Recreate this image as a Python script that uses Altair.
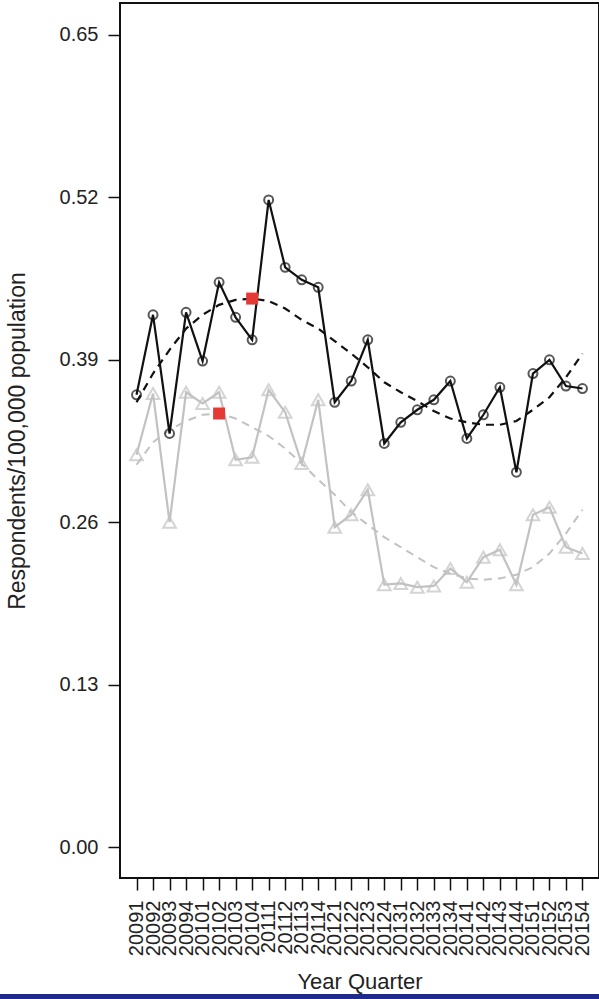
import altair as alt
import pandas as pd

quarters = ["20091", "20092", "20093", "20094", "20101", "20102", "20103", "20104",
            "20111", "20112", "20113", "20114", "20121", "20122", "20123", "20124",
            "20131", "20132", "20133", "20134", "20141", "20142", "20143", "20144",
            "20151", "20152", "20153", "20154"]

black_obs = [0.362, 0.426, 0.331, 0.428, 0.389, 0.452, 0.424, 0.406,
             0.518, 0.464, 0.454, 0.448, 0.356, 0.373, 0.406, 0.323,
             0.340, 0.350, 0.358, 0.373, 0.327, 0.346, 0.368, 0.300,
             0.379, 0.390, 0.369, 0.367]
grey_obs = [0.314, 0.363, 0.260, 0.364, 0.355, 0.364, 0.310, 0.312,
            0.366, 0.348, 0.307, 0.358, 0.256, 0.266, 0.286, 0.210,
            0.211, 0.208, 0.209, 0.223, 0.212, 0.232, 0.238, 0.210,
            0.266, 0.272, 0.240, 0.235]
black_trend = [0.356, 0.379, 0.398, 0.415, 0.426, 0.434, 0.438, 0.439,
               0.437, 0.431, 0.422, 0.415, 0.405, 0.395, 0.384, 0.372,
               0.364, 0.357, 0.349, 0.343, 0.340, 0.338, 0.338, 0.341,
               0.350, 0.360, 0.376, 0.395]
grey_trend = [0.306, 0.324, 0.334, 0.341, 0.346, 0.347, 0.343, 0.336,
              0.329, 0.319, 0.307, 0.294, 0.282, 0.268, 0.258, 0.248,
              0.240, 0.232, 0.224, 0.219, 0.215, 0.214, 0.215, 0.218,
              0.224, 0.235, 0.251, 0.270]
peak_quarters = ["20104", "20102"]
peak_values = [0.439, 0.347]

y_ticks = [0.0, 0.13, 0.26, 0.39, 0.52, 0.65]

df = pd.DataFrame({
    "q": quarters,
    "black": black_obs,
    "grey": grey_obs,
    "btrend": black_trend,
    "gtrend": grey_trend,
})
peaks = pd.DataFrame({"q": peak_quarters, "v": peak_values})

FONT = "Liberation Sans"
GREY = "#c2c2c2"

x_enc = alt.X(
    "q:N",
    sort=quarters,
    scale=alt.Scale(type="point", padding=1.075),
    axis=alt.Axis(
        title="Year Quarter",
        labelAngle=270,
        labelFontSize=20,
        labelFont=FONT,
        labelColor="#222222",
        labelPadding=10,
        tickSize=12,
        tickWidth=1.5,
        tickColor="#111111",
        domain=False,
        grid=False,
        titleFontSize=22,
        titleFont=FONT,
        titleFontWeight="normal",
        titleColor="#222222",
        titlePadding=16,
    ),
)


def y_enc(field):
    return alt.Y(
        field,
        type="quantitative",
        scale=alt.Scale(domain=[-0.0248, 0.6756], nice=False, zero=False),
        axis=alt.Axis(
            title="Respondents/100,000 population",
            values=y_ticks,
            format=".2f",
            labelFontSize=20,
            labelFont=FONT,
            labelColor="#222222",
            labelPadding=10,
            tickSize=12,
            tickWidth=1.5,
            tickColor="#111111",
            domain=False,
            grid=False,
            titleFontSize=23,
            titleFont=FONT,
            titleFontWeight="normal",
            titleColor="#222222",
            titlePadding=30,
        ),
    )


base = alt.Chart(df)

grey_trend_line = base.mark_line(color=GREY, strokeWidth=2, strokeDash=[8, 6]).encode(
    x=x_enc, y=y_enc("gtrend"))
grey_line = base.mark_line(color=GREY, strokeWidth=2.2).encode(x=x_enc, y=y_enc("grey"))
grey_pts = base.mark_point(shape="triangle-up", size=160, color=GREY, filled=False,
                           strokeWidth=2).encode(x=x_enc, y=y_enc("grey"))

black_trend_line = base.mark_line(color="#111111", strokeWidth=2.2, strokeDash=[8, 6]).encode(
    x=x_enc, y=y_enc("btrend"))
black_line = base.mark_line(color="#111111", strokeWidth=2.2).encode(x=x_enc, y=y_enc("black"))
black_pts = base.mark_point(shape="circle", size=80, color="#111111", filled=False,
                            strokeWidth=2).encode(x=x_enc, y=y_enc("black"))

peak_pts = alt.Chart(peaks).mark_point(shape="square", size=144, filled=True,
                                       color="#e53935", opacity=1).encode(
    x=x_enc, y=y_enc("v"))

blue_strip = alt.Chart(df).mark_rule(color="#1f2b8c", strokeWidth=5).encode(
    x=alt.value(-120), x2=alt.value(479), y=alt.value(993.5))

chart = alt.layer(
    grey_trend_line, grey_line, grey_pts,
    black_trend_line, black_line, black_pts,
    peak_pts, blue_strip,
).properties(
    width=479,
    height=875,
    autosize=alt.AutoSizeParams(type="none"),
    padding={"left": 120, "top": 3, "right": 0, "bottom": 121},
    background="white",
).configure_view(
    stroke="#111111",
    strokeWidth=2,
)

chart.save("out.html", embed_options={"renderer": "svg", "actions": False})
